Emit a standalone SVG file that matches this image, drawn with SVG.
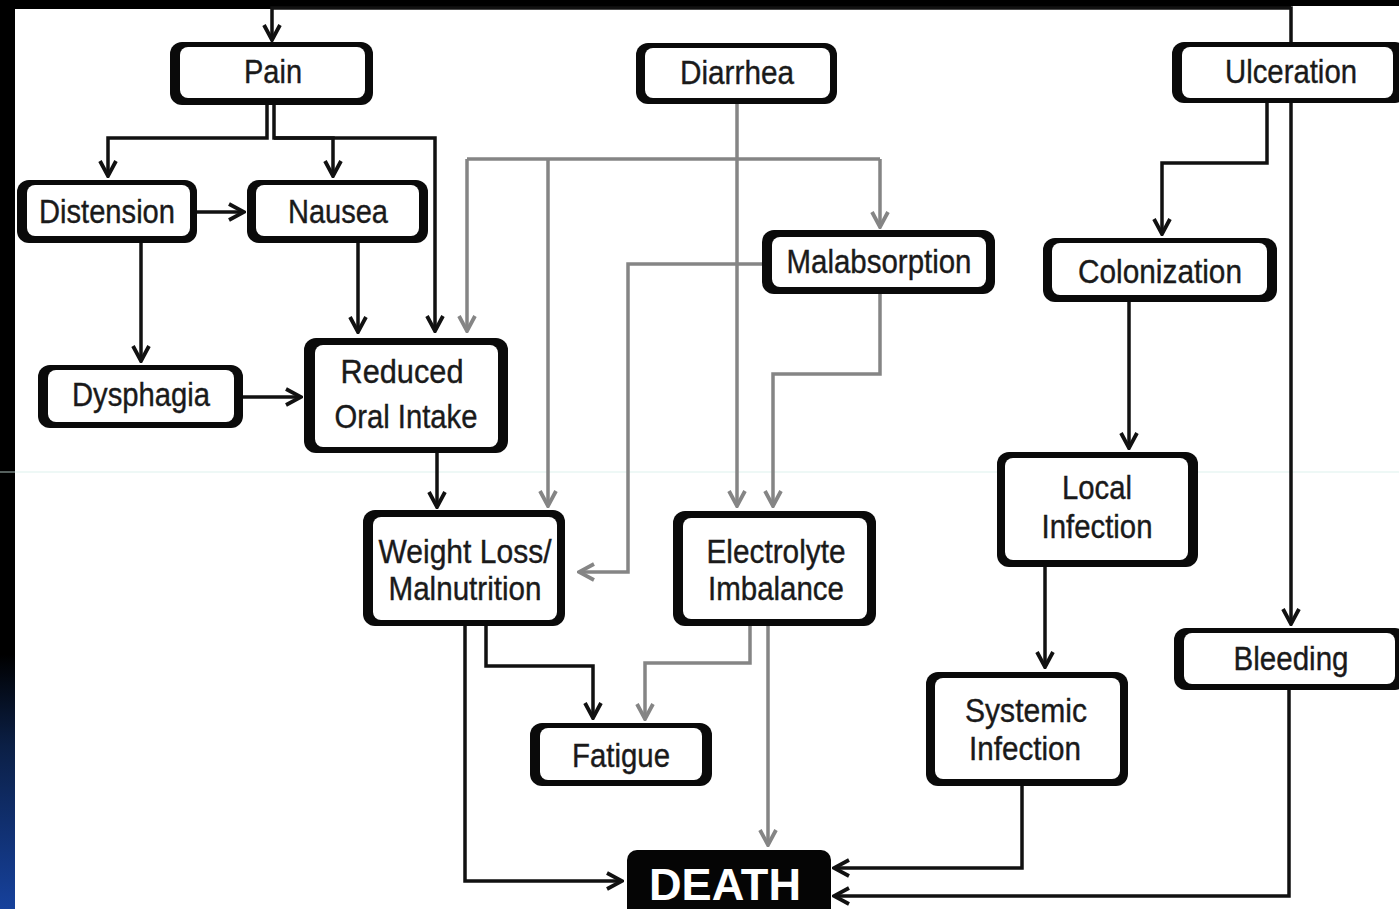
<svg xmlns="http://www.w3.org/2000/svg" width="1399" height="909" viewBox="0 0 1399 909">
<defs>
<linearGradient id="strip" x1="0" y1="0" x2="0" y2="1">
<stop offset="0" stop-color="#000"/>
<stop offset="0.72" stop-color="#000"/>
<stop offset="0.82" stop-color="#0b1f45"/>
<stop offset="1" stop-color="#16419c"/>
</linearGradient>
<marker id="ab" viewBox="-18 -11 20 22" markerWidth="20" markerHeight="22" refX="0" refY="0" orient="auto" markerUnits="userSpaceOnUse">
<path d="M-15,-8 L0,0 L-15,8" fill="none" stroke="#111" stroke-width="3.8"/>
</marker>
<marker id="ag" viewBox="-18 -11 20 22" markerWidth="20" markerHeight="22" refX="0" refY="0" orient="auto" markerUnits="userSpaceOnUse">
<path d="M-15,-8 L0,0 L-15,8" fill="none" stroke="#858585" stroke-width="3.8"/>
</marker>
</defs>
<style>
.o{fill:#0a0a0a}
.i{fill:#fff}
.t{font-family:"Liberation Sans",Arial,sans-serif;font-size:34px;fill:#1a1a1a;stroke:#1a1a1a;stroke-width:0.4;text-anchor:middle}
.b{fill:none;stroke:#111;stroke-width:3.5;marker-end:url(#ab)}
.bn{fill:none;stroke:#111;stroke-width:3.5}
.g{fill:none;stroke:#858585;stroke-width:3.5;marker-end:url(#ag)}
.gn{fill:none;stroke:#858585;stroke-width:3.5}
</style>
<rect x="0" y="0" width="1399" height="909" fill="#fff"/>
<rect x="0" y="0" width="1399" height="6" fill="#000"/>
<rect x="0" y="0" width="1291" height="9" fill="#000"/>
<rect x="0" y="0" width="15" height="909" fill="url(#strip)"/>
<line x1="0" y1="472" x2="1399" y2="472" stroke="#d6efea" stroke-width="1" opacity="0.8"/>

<g id="connectors">
<path class="b" d="M1291,42 V8 H272 V40"/>
<path class="b" d="M267,105 V138 H108 V176"/>
<path class="b" d="M274,105 V138 H333 V176"/>
<path class="b" d="M274,138 H435 V331"/>
<path class="b" d="M197,212 H244"/>
<path class="b" d="M141,243 V361"/>
<path class="b" d="M358,243 V332"/>
<path class="b" d="M243,397 H301"/>
<path class="b" d="M437,453 V507"/>
<path class="b" d="M465,626 V881 H622"/>
<path class="b" d="M486,626 V666 H593 V718"/>
<path class="b" d="M1267,103 V163 H1162 V234"/>
<path class="b" d="M1291,103 V624"/>
<path class="b" d="M1129,302 V448"/>
<path class="b" d="M1045,567 V667"/>
<path class="b" d="M1022,786 V868 H834"/>
<path class="b" d="M1289,690 V896 H834"/>
<path class="g" d="M737,104 V506"/>
<path class="gn" d="M467,159 H880"/>
<path class="g" d="M467,159 V331"/>
<path class="g" d="M548,159 V506"/>
<path class="g" d="M880,159 V227"/>
<path class="g" d="M762,264 H628 V572 H579"/>
<path class="g" d="M880,294 V374 H773 V506"/>
<path class="g" d="M750,626 V663 H645 V719"/>
<path class="g" d="M768,626 V845"/>
</g>

<g id="pain"><rect class="o" x="170" y="42" width="203" height="63" rx="12"/><rect class="i" x="180" y="47" width="185" height="51" rx="8"/><text class="t" x="273" y="83" textLength="58" lengthAdjust="spacingAndGlyphs">Pain</text></g>
<g id="diarrhea"><rect class="o" x="636" y="43" width="201" height="61" rx="12"/><rect class="i" x="645" y="48" width="185" height="50" rx="8"/><text class="t" x="737" y="84" textLength="114" lengthAdjust="spacingAndGlyphs">Diarrhea</text></g>
<g id="ulceration"><rect class="o" x="1172" y="42" width="235" height="61" rx="12"/><rect class="i" x="1182" y="47" width="211" height="51" rx="8"/><text class="t" x="1291" y="83" textLength="132" lengthAdjust="spacingAndGlyphs">Ulceration</text></g>
<g id="distension"><rect class="o" x="17" y="180" width="180" height="63" rx="12"/><rect class="i" x="27" y="185" width="163" height="51" rx="8"/><text class="t" x="107" y="223" textLength="136" lengthAdjust="spacingAndGlyphs">Distension</text></g>
<g id="nausea"><rect class="o" x="247" y="180" width="181" height="63" rx="12"/><rect class="i" x="256" y="185" width="163" height="51" rx="8"/><text class="t" x="338" y="223" textLength="100" lengthAdjust="spacingAndGlyphs">Nausea</text></g>
<g id="malabsorption"><rect class="o" x="762" y="230" width="233" height="64" rx="12"/><rect class="i" x="772" y="237" width="214" height="50" rx="8"/><text class="t" x="879" y="273" textLength="185" lengthAdjust="spacingAndGlyphs">Malabsorption</text></g>
<g id="colonization"><rect class="o" x="1043" y="238" width="234" height="64" rx="12"/><rect class="i" x="1052" y="243" width="215" height="52" rx="8"/><text class="t" x="1160" y="283" textLength="164" lengthAdjust="spacingAndGlyphs">Colonization</text></g>
<g id="dysphagia"><rect class="o" x="38" y="365" width="205" height="63" rx="12"/><rect class="i" x="48" y="370" width="186" height="52" rx="8"/><text class="t" x="141" y="406" textLength="138" lengthAdjust="spacingAndGlyphs">Dysphagia</text></g>
<g id="reduced"><rect class="o" x="304" y="338" width="204" height="115" rx="12"/><rect class="i" x="315" y="345" width="183" height="102" rx="8"/><text class="t" x="402" y="383" textLength="123" lengthAdjust="spacingAndGlyphs">Reduced</text><text class="t" x="406" y="428" textLength="143" lengthAdjust="spacingAndGlyphs">Oral Intake</text></g>
<g id="local"><rect class="o" x="997" y="452" width="201" height="115" rx="12"/><rect class="i" x="1005" y="458" width="183" height="102" rx="8"/><text class="t" x="1097" y="499" textLength="70" lengthAdjust="spacingAndGlyphs">Local</text><text class="t" x="1097" y="538" textLength="111" lengthAdjust="spacingAndGlyphs">Infection</text></g>
<g id="weightloss"><rect class="o" x="363" y="510" width="202" height="116" rx="12"/><rect class="i" x="373" y="517" width="184" height="103" rx="8"/><text class="t" x="465" y="563" textLength="173" lengthAdjust="spacingAndGlyphs">Weight Loss/</text><text class="t" x="465" y="600" textLength="153" lengthAdjust="spacingAndGlyphs">Malnutrition</text></g>
<g id="electrolyte"><rect class="o" x="673" y="511" width="203" height="115" rx="12"/><rect class="i" x="683" y="518" width="184" height="101" rx="8"/><text class="t" x="776" y="563" textLength="139" lengthAdjust="spacingAndGlyphs">Electrolyte</text><text class="t" x="776" y="600" textLength="136" lengthAdjust="spacingAndGlyphs">Imbalance</text></g>
<g id="fatigue"><rect class="o" x="530" y="723" width="182" height="63" rx="12"/><rect class="i" x="540" y="728" width="162" height="52" rx="8"/><text class="t" x="621" y="767" textLength="98" lengthAdjust="spacingAndGlyphs">Fatigue</text></g>
<g id="bleeding"><rect class="o" x="1174" y="628" width="233" height="62" rx="12"/><rect class="i" x="1184" y="633" width="211" height="51" rx="8"/><text class="t" x="1291" y="670" textLength="115" lengthAdjust="spacingAndGlyphs">Bleeding</text></g>
<g id="systemic"><rect class="o" x="926" y="672" width="202" height="114" rx="12"/><rect class="i" x="935" y="678" width="185" height="101" rx="8"/><text class="t" x="1026" y="722" textLength="122" lengthAdjust="spacingAndGlyphs">Systemic</text><text class="t" x="1025" y="760" textLength="112" lengthAdjust="spacingAndGlyphs">Infection</text></g>
<g id="death"><rect x="627" y="850" width="204" height="75" rx="10" fill="#050505"/><text x="725" y="900" font-family="Liberation Sans,Arial,sans-serif" font-weight="bold" font-size="44" fill="#fff" text-anchor="middle" textLength="152" lengthAdjust="spacingAndGlyphs">DEATH</text></g>
</svg>
